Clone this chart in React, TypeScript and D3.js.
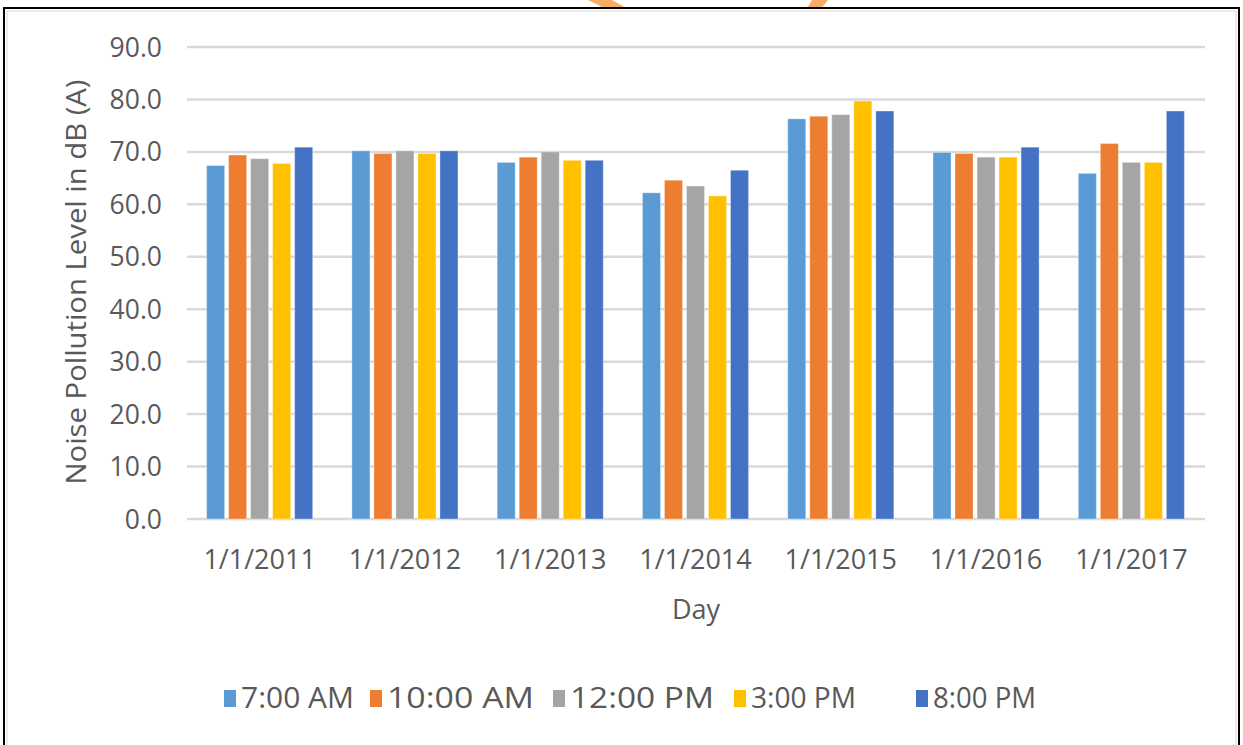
import React from 'react';
import * as d3 from 'd3';

const days = ['1/1/2011', '1/1/2012', '1/1/2013', '1/1/2014', '1/1/2015', '1/1/2016', '1/1/2017'];
const series = ['7:00 AM', '10:00 AM', '12:00 PM', '3:00 PM', '8:00 PM'];
const colors = ['#5B9BD5', '#ED7D31', '#A5A5A5', '#FFC000', '#4472C4'];

const am7 = [67.4, 70.2, 68.0, 62.2, 76.3, 69.9, 65.9];
const am10 = [69.4, 69.7, 69.0, 64.6, 76.8, 69.7, 71.6];
const pm12 = [68.7, 70.2, 70.0, 63.5, 77.1, 69.0, 68.0];
const pm3 = [67.8, 69.7, 68.4, 61.6, 79.7, 69.0, 68.0];
const pm8 = [70.9, 70.2, 68.4, 66.5, 77.8, 70.9, 77.8];
const values = [am7, am10, pm12, pm3, pm8];

const yTicks = [0, 10, 20, 30, 40, 50, 60, 70, 80, 90];

const font = '"Open Sans", sans-serif';
const grey = '#595959';

// legend layout
const legendX = [224, 370, 553, 734, 916];
const legendW = [113, 147, 144, 105, 103];

const App = () => {
  const width = 1243;
  const height = 745;

  const x0 = d3.scaleBand<string>().domain(days).range([187, 1204]);
  const x1 = d3
    .scaleBand<string>()
    .domain(series)
    .range([0, x0.bandwidth()])
    .paddingInner(0.18)
    .paddingOuter(0.89);
  const y = d3.scaleLinear().domain([0, 90]).range([519, 47]);

  return (
    <svg
      width={width}
      height={height}
      style={{ position: 'absolute', left: 0, top: 0, background: '#fff' }}
    >
      {/* watermark scraps at the top edge */}
      <polygon points="588,0 612,0 628,9 606,9" fill="#F5A04A" opacity={0.85} />
      <polygon points="812,0 828,0 820,10 806,10" fill="#F5A04A" opacity={0.85} />

      <rect x={4} y={8} width={1235} height={760} fill="#fff" stroke="#000" strokeWidth={2} />
      <rect x={7} y={11} width={1229} height={760} fill="none" stroke="#d9d9d9" strokeWidth={1} />

      {/* grid */}
      {yTicks.map(t => (
        <g key={t}>
          <line x1={187} x2={1205} y1={y(t)} y2={y(t)} stroke="#d9d9d9" strokeWidth={2.5} />
          <text
            x={162}
            y={y(t)}
            dy="0.36em"
            textAnchor="end"
            fontFamily={font}
            fontSize={26.5}
            fill={grey}
          >
            {t.toFixed(1)}
          </text>
        </g>
      ))}

      {/* bars */}
      {days.map((d, i) => (
        <g key={d} transform={`translate(${x0(d)},0)`}>
          {series.map((s, j) => (
            <rect
              key={s}
              x={x1(s)}
              y={y(values[j][i])}
              width={x1.bandwidth()}
              height={y(0) - y(values[j][i])}
              fill={colors[j]}
              stroke="#fff"
              strokeOpacity={0.35}
              strokeWidth={1}
            />
          ))}
          <text
            x={x0.bandwidth() / 2}
            y={569}
            textAnchor="middle"
            fontFamily={font}
            fontSize={27}
            fill={grey}
          >
            {d}
          </text>
        </g>
      ))}

      <text x={696} y={619} textAnchor="middle" fontFamily={font} fontSize={27} fill={grey}>
        Day
      </text>
      <text
        transform="translate(86,282) rotate(-90)"
        textAnchor="middle"
        fontFamily={font}
        fontSize={27}
        fill={grey}
        textLength={405}
        lengthAdjust="spacingAndGlyphs"
      >
        Noise Pollution Level in dB (A)
      </text>

      {/* legend */}
      {series.map((s, j) => (
        <g key={s}>
          <rect x={legendX[j]} y={690} width={12} height={17} fill={colors[j]} />
          <text
            x={legendX[j] + 17}
            y={708}
            fontFamily={font}
            fontSize={29}
            fill={grey}
            textLength={legendW[j]}
            lengthAdjust="spacingAndGlyphs"
          >
            {s}
          </text>
        </g>
      ))}
    </svg>
  );
};

export default App;
